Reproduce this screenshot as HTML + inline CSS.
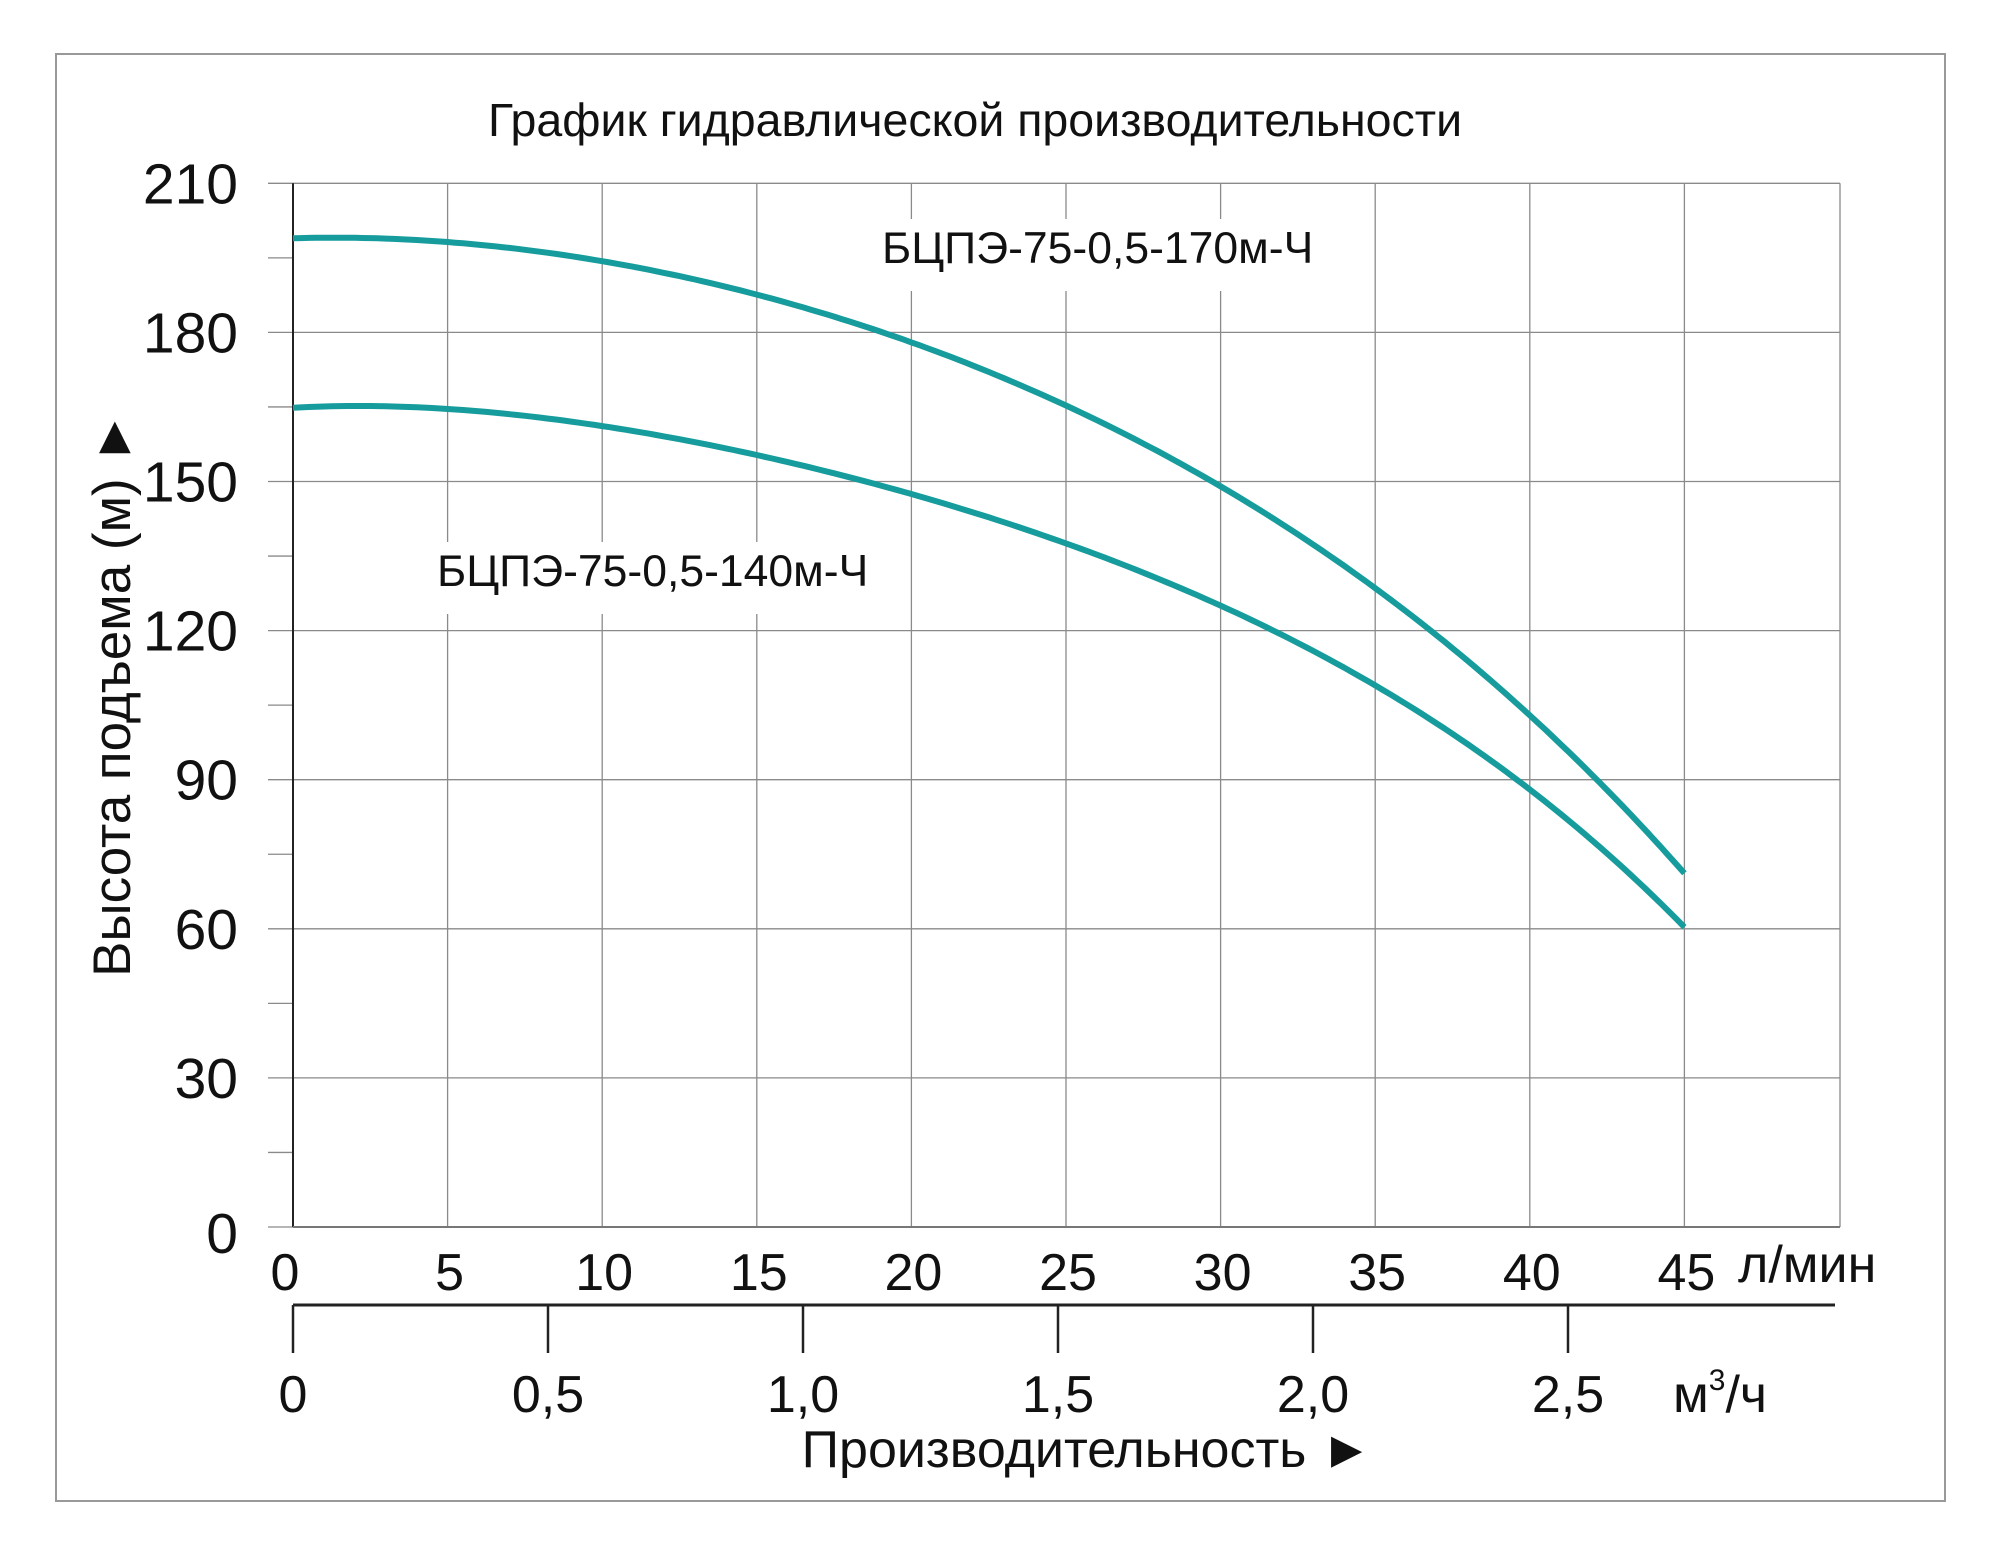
<!DOCTYPE html>
<html><head><meta charset="utf-8"><style>
body{margin:0;background:#fff}
svg{display:block}
text{font-family:"Liberation Sans",sans-serif;fill:#111}
</style></head><body>
<svg id="chart" width="2000" height="1557" viewBox="0 0 2000 1557">
<rect x="56" y="54" width="1889" height="1447" fill="#fff" stroke="#999" stroke-width="2"/>
<text x="975" y="136" font-size="46.5" text-anchor="middle">График гидравлической производительности</text>
<g id="grid"></g>
<g id="axes"></g>
<g id="series"></g>
<g id="labels"></g>
</svg>
<script>
const flowLpm = [0,5,10,15,20,25,30,35,40,45];
const head170 = [199,198,194.5,187.5,178,165.5,149,128,103.5,71];
const head140 = [165,164.3,161,155.5,148,137.5,124.5,108.5,89,60];
const yTicks = [0,30,60,90,120,150,180,210];
const xTicksLpm = [0,5,10,15,20,25,30,35,40,45];
const xTicksM3 = [0,0.5,1.0,1.5,2.0,2.5];
const xTickM3Labels = ["0","0,5","1,0","1,5","2,0","2,5"];

const NS="http://www.w3.org/2000/svg";
const X0=293, XPER=30.92, Y0=1227, YPER=4.97, RIGHT=1840;
const M3PER=510;
const sx=v=>X0+v*XPER, sy=v=>Y0-v*YPER, sm=v=>X0+v*M3PER;
function mk(tag,attrs,parent,txt){const e=document.createElementNS(NS,tag);for(const k in attrs)e.setAttribute(k,attrs[k]);if(txt!==undefined)e.textContent=txt;parent.appendChild(e);return e;}
const grid=document.getElementById('grid'),axes=document.getElementById('axes'),series=document.getElementById('series'),labels=document.getElementById('labels');

yTicks.forEach(v=>{
  const l=mk('line',{x1:268,x2:RIGHT,y1:sy(v),y2:sy(v),stroke:'#8a8a8a','stroke-width':1.3},grid);
  
  
  const t=mk('text',{x:238,y:sy(v)+(v===0?26:20),'font-size':57,'text-anchor':'end'},labels,String(v));
  
  
});
for(let v=15;v<210;v+=30){
  const m=mk('line',{x1:268,x2:293,y1:sy(v),y2:sy(v),stroke:'#8a8a8a','stroke-width':1.3},grid);
  
  
}
xTicksLpm.forEach(v=>{
  if(v>0){const l=mk('line',{x1:sx(v),x2:sx(v),y1:sy(210),y2:Y0,stroke:'#8a8a8a','stroke-width':1.3},grid);
  
  }
  const t=mk('text',{x:sx(v)-(v===0?8:-2),y:1290,'font-size':52,'text-anchor':'middle'},labels,String(v));
  
  
});
const rl=mk('line',{x1:RIGHT,x2:RIGHT,y1:sy(210),y2:Y0,stroke:'#8a8a8a','stroke-width':1.3},grid);


const ya=mk('line',{x1:X0,x2:X0,y1:sy(210),y2:Y0,stroke:'#222','stroke-width':2},axes);


const xa=mk('line',{x1:X0,x2:RIGHT,y1:Y0,y2:Y0,stroke:'#777','stroke-width':2},axes);


const m3a=mk('line',{x1:X0,x2:1835,y1:1305,y2:1305,stroke:'#222','stroke-width':3},axes);


xTicksM3.forEach((v,i)=>{
  const l=mk('line',{x1:sm(v),x2:sm(v),y1:1305,y2:1353,stroke:'#222','stroke-width':2.5},axes);
  
  
  const t=mk('text',{x:sm(v),y:1412,'font-size':52,'text-anchor':'middle'},labels,xTickM3Labels[i]);
  
  
});
// least-squares polynomial fit for smooth curves
function polyfit(xs,ys,deg){
  const n=deg+1,A=[],b=[];
  for(let i=0;i<n;i++){A.push(new Array(n).fill(0));b.push(0);}
  xs.forEach((x,k)=>{const xn=x/45;for(let i=0;i<n;i++){b[i]+=ys[k]*Math.pow(xn,i);for(let j=0;j<n;j++)A[i][j]+=Math.pow(xn,i+j);}});
  for(let i=0;i<n;i++){let p=i;for(let r=i+1;r<n;r++)if(Math.abs(A[r][i])>Math.abs(A[p][i]))p=r;[A[i],A[p]]=[A[p],A[i]];[b[i],b[p]]=[b[p],b[i]];
    for(let r=i+1;r<n;r++){const f=A[r][i]/A[i][i];for(let c=i;c<n;c++)A[r][c]-=f*A[i][c];b[r]-=f*b[i];}}
  const c=new Array(n).fill(0);
  for(let i=n-1;i>=0;i--){let s=b[i];for(let j=i+1;j<n;j++)s-=A[i][j]*c[j];c[i]=s/A[i][i];}
  return x=>c.reduce((s,ci,i)=>s+ci*Math.pow(x/45,i),0);
}
function curve(vals,name){
  const f=polyfit(flowLpm,vals,4);
  const xmax=flowLpm[flowLpm.length-1];
  let d='';
  for(let i=0;i<=180;i++){const x=xmax*i/180;d+=(i?'L':'M')+sx(x).toFixed(1)+','+sy(f(x)).toFixed(1);}
  const path=mk('path',{d:d,fill:'none',stroke:'#169c9c','stroke-width':6,'stroke-linejoin':'round'},series);
  
  
}
curve(head170,'curve-170m');
curve(head140,'curve-140m');
function seriesLabel(x,y,txt,name){
  const r=mk('rect',{x:x-6,y:y-44,width:450,height:72,fill:'#fff'},labels);
  
  
  const t=mk('text',{x:x,y:y,'font-size':44.5},labels,txt);
  
  
}
seriesLabel(882,263,'БЦПЭ-75-0,5-170м-Ч','label-170m');
seriesLabel(437,586,'БЦПЭ-75-0,5-140м-Ч','label-140m');
let t;
t=mk('text',{x:1738,y:1282,'font-size':52},labels,'л/мин');


t=mk('text',{x:1673,y:1412,'font-size':52},labels,'м');


mk('tspan',{dy:-22,'font-size':30},t,'3');
mk('tspan',{dy:22},t,'/ч');
t=mk('text',{x:1087,y:1467,'font-size':52,'text-anchor':'middle'},labels,'Производительность ►');


t=mk('text',{x:0,y:0,'font-size':53,'text-anchor':'middle',transform:'translate(130,694) rotate(-90)'},labels,'Высота подъема (м) ►');


</script>
</body></html>
